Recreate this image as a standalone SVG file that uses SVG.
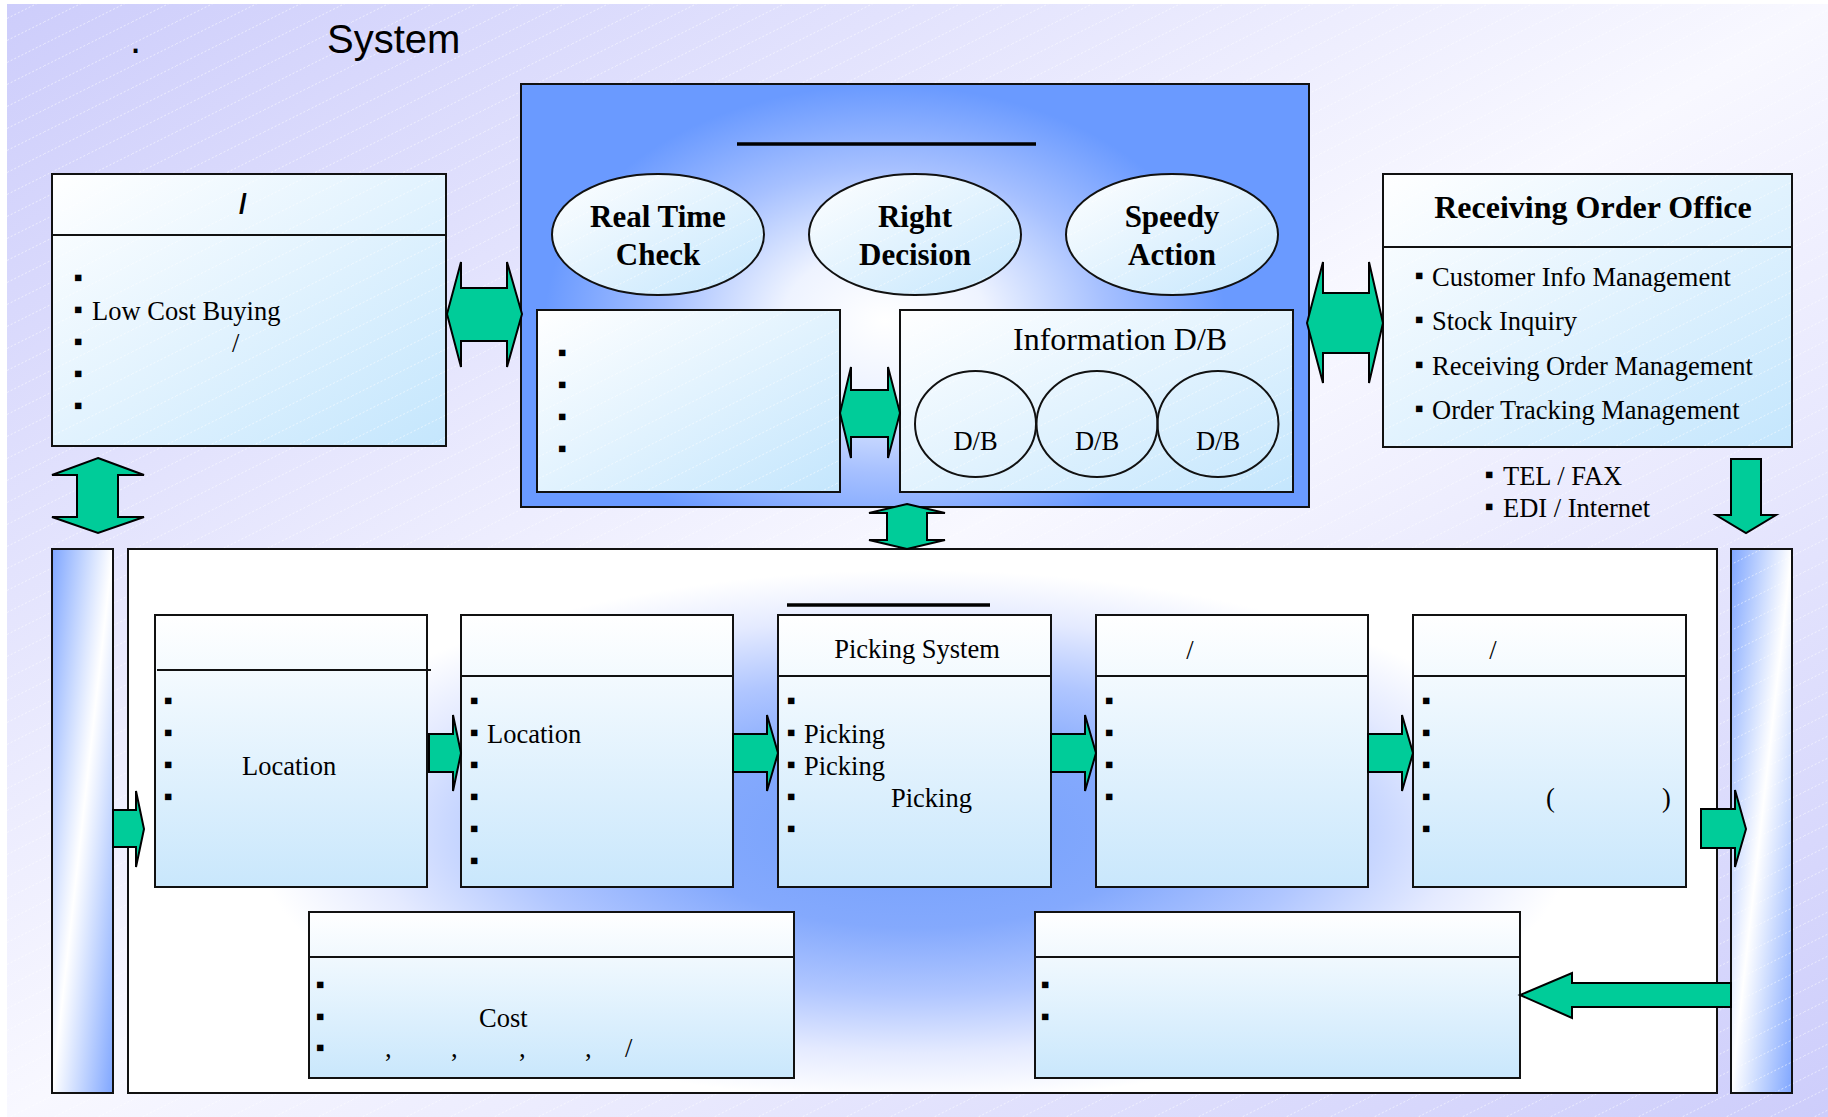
<svg xmlns="http://www.w3.org/2000/svg" width="1828" height="1117" viewBox="0 0 1828 1117">
<defs>
  <style>
    .bx{stroke:#111;stroke-width:2}
    .st{fill:none;stroke:#111;stroke-width:2}
    .ln{stroke:#111;stroke-width:2}
    .ul{stroke:#000;stroke-width:3.5}
    .ar{fill:#00cc99;stroke:#000;stroke-width:2;stroke-linejoin:miter}
    .t{font-family:"Liberation Serif","Times New Roman",serif;font-size:26.5px;fill:#000}
    .tb{font-family:"Liberation Serif","Times New Roman",serif;font-size:31px;font-weight:bold;fill:#000;text-anchor:middle}
    .b{font-family:"Liberation Serif","Times New Roman",serif;font-size:26px;fill:#000;text-anchor:middle}
    .c{text-anchor:middle}
  </style>
  <linearGradient id="bg" x1="0" y1="0" x2="1" y2="1">
    <stop offset="0" stop-color="#cdcdfb"/>
    <stop offset="0.5" stop-color="#f8f8ff"/>
    <stop offset="1" stop-color="#cdcdfb"/>
  </linearGradient>
  <linearGradient id="bar" x1="0" y1="0" x2="1" y2="1">
    <stop offset="0" stop-color="#7fa6ff"/>
    <stop offset="0.5" stop-color="#ffffff"/>
    <stop offset="1" stop-color="#7fa6ff"/>
  </linearGradient>
  <linearGradient id="diag" x1="0" y1="0" x2="1" y2="1">
    <stop offset="0" stop-color="#ffffff"/>
    <stop offset="1" stop-color="#c4e6fd"/>
  </linearGradient>
  <linearGradient id="vert" x1="0" y1="0" x2="0" y2="1">
    <stop offset="0" stop-color="#ffffff"/>
    <stop offset="1" stop-color="#c9e7fc"/>
  </linearGradient>
  <radialGradient id="coreglow" gradientUnits="userSpaceOnUse" cx="0" cy="0" r="1" gradientTransform="translate(885 320) scale(340 235)">
    <stop offset="0" stop-color="#ffffff"/>
    <stop offset="0.3" stop-color="#eef3ff"/>
    <stop offset="0.65" stop-color="#a6c0ff"/>
    <stop offset="1" stop-color="#6a9aff"/>
  </radialGradient>
  <radialGradient id="lowglow" gradientUnits="userSpaceOnUse" cx="0" cy="0" r="1" gradientTransform="translate(915 835) scale(660 265)">
    <stop offset="0" stop-color="#74a0fc"/>
    <stop offset="0.35" stop-color="#84a9fd"/>
    <stop offset="0.6" stop-color="#b0c6ff"/>
    <stop offset="0.82" stop-color="#e4eaff"/>
    <stop offset="1" stop-color="#ffffff"/>
  </radialGradient>
  <pattern id="hatch" width="44" height="22" patternUnits="userSpaceOnUse">
    <line x1="0" y1="22" x2="44" y2="0" stroke="#ffffff" stroke-width="1" stroke-dasharray="2 2" opacity="0.55"/>
  </pattern>
</defs>

<g id="background">
  <rect x="7" y="4" width="1821" height="1113" fill="url(#bg)"/>
  <rect x="7" y="4" width="1821" height="1113" fill="url(#hatch)"/>
</g>

<g id="title">
  <text x="130" y="53" style="font-family:'Liberation Sans',Arial,sans-serif;font-size:40px;fill:#000">.</text>
  <text x="327" y="53" style="font-family:'Liberation Sans',Arial,sans-serif;font-size:40px;fill:#000">System</text>
</g>

<g id="purchase">
  <rect x="52" y="174" width="394" height="272" fill="url(#diag)"/>
  <rect x="52" y="174" width="394" height="272" fill="url(#hatch)"/>
  <rect class="st" x="52" y="174" width="394" height="272"/>
  <line class="ln" x1="52" y1="235" x2="446" y2="235"/>
  <text x="243" y="213" style="font-family:'Liberation Sans',Arial,sans-serif;font-size:28px;font-weight:bold;text-anchor:middle">/</text>
  <text class="b" x="78" y="286">▪</text>
  <text class="b" x="78" y="318">▪</text>
  <text class="b" x="78" y="350">▪</text>
  <text class="b" x="78" y="382">▪</text>
  <text class="b" x="78" y="414">▪</text>
  <text class="t" x="92" y="320">Low Cost Buying</text>
  <text class="t" x="232" y="352">/</text>
</g>

<g id="core">
  <rect class="bx" x="521" y="84" width="788" height="423" fill="url(#coreglow)"/>
  <line class="ul" x1="737" y1="144" x2="1036" y2="144"/>
  <g id="realtime">
    <ellipse cx="658" cy="234.5" rx="106" ry="60.5" fill="url(#diag)"/>
    <ellipse cx="658" cy="234.5" rx="106" ry="60.5" fill="url(#hatch)"/>
    <ellipse class="st" cx="658" cy="234.5" rx="106" ry="60.5"/>
    <text class="tb" x="658" y="227">Real Time</text>
    <text class="tb" x="658" y="265">Check</text>
  </g>
  <g id="decision">
    <ellipse cx="915" cy="234.5" rx="106" ry="60.5" fill="url(#diag)"/>
    <ellipse cx="915" cy="234.5" rx="106" ry="60.5" fill="url(#hatch)"/>
    <ellipse class="st" cx="915" cy="234.5" rx="106" ry="60.5"/>
    <text class="tb" x="915" y="227">Right</text>
    <text class="tb" x="915" y="265">Decision</text>
  </g>
  <g id="speedy">
    <ellipse cx="1172" cy="234.5" rx="106" ry="60.5" fill="url(#diag)"/>
    <ellipse cx="1172" cy="234.5" rx="106" ry="60.5" fill="url(#hatch)"/>
    <ellipse class="st" cx="1172" cy="234.5" rx="106" ry="60.5"/>
    <text class="tb" x="1172" y="227">Speedy</text>
    <text class="tb" x="1172" y="265">Action</text>
  </g>
  <g id="core-panel">
    <rect x="537" y="310" width="303" height="182" fill="url(#diag)"/>
    <rect x="537" y="310" width="303" height="182" fill="url(#hatch)"/>
    <rect class="st" x="537" y="310" width="303" height="182"/>
    <text class="b" x="562" y="361">▪</text>
    <text class="b" x="562" y="393">▪</text>
    <text class="b" x="562" y="425">▪</text>
    <text class="b" x="562" y="457">▪</text>
  </g>
  <g id="info-db">
    <rect x="900" y="310" width="393" height="182" fill="url(#diag)"/>
    <rect x="900" y="310" width="393" height="182" fill="url(#hatch)"/>
    <rect class="st" x="900" y="310" width="393" height="182"/>
    <text class="t" x="1013" y="350" style="font-size:32px">Information D/B</text>
    <ellipse class="st" cx="975.5" cy="424" rx="60.5" ry="53"/>
    <ellipse class="st" cx="1097" cy="424" rx="60.5" ry="53"/>
    <ellipse class="st" cx="1218" cy="424" rx="60.5" ry="53"/>
    <text class="t c" x="975.5" y="450">D/B</text>
    <text class="t c" x="1097" y="450">D/B</text>
    <text class="t c" x="1218" y="450">D/B</text>
  </g>
</g>

<g id="receiving">
  <rect x="1383" y="174" width="409" height="273" fill="url(#diag)"/>
  <rect x="1383" y="174" width="409" height="273" fill="url(#hatch)"/>
  <rect class="st" x="1383" y="174" width="409" height="273"/>
  <line class="ln" x1="1383" y1="247" x2="1792" y2="247"/>
  <text class="tb" x="1593" y="218" style="font-size:32px">Receiving Order Office</text>
  <text class="b" x="1419" y="284">▪</text>
  <text class="b" x="1419" y="328">▪</text>
  <text class="b" x="1419" y="373">▪</text>
  <text class="b" x="1419" y="417">▪</text>
  <text class="t" x="1432" y="286">Customer Info Management</text>
  <text class="t" x="1432" y="330">Stock Inquiry</text>
  <text class="t" x="1432" y="375">Receiving Order Management</text>
  <text class="t" x="1432" y="419">Order Tracking Management</text>
</g>

<g id="channels">
  <text class="b" x="1489" y="483">▪</text>
  <text class="b" x="1489" y="515">▪</text>
  <text class="t" x="1503" y="485">TEL / FAX</text>
  <text class="t" x="1503" y="517">EDI / Internet</text>
</g>

<g id="left-bar">
  <rect class="bx" x="52" y="549" width="61" height="544" fill="url(#bar)"/>
</g>
<g id="right-bar">
  <rect x="1731" y="549" width="61" height="544" fill="url(#bar)"/>
  <rect x="1731" y="549" width="61" height="544" fill="url(#hatch)"/>
  <rect class="st" x="1731" y="549" width="61" height="544"/>
</g>

<g id="logistics">
  <rect class="bx" x="128" y="549" width="1589" height="544" fill="url(#lowglow)"/>
  <line class="ul" x1="787" y1="605" x2="990" y2="605"/>
</g>

<g id="box1">
  <rect class="bx" x="155" y="615" width="272" height="272" fill="url(#vert)"/>
  <line class="ln" x1="157" y1="670" x2="431" y2="670"/>
  <text class="b" x="168" y="709">▪</text>
  <text class="b" x="168" y="741">▪</text>
  <text class="b" x="168" y="773">▪</text>
  <text class="b" x="168" y="805">▪</text>
  <text class="t" x="242" y="775">Location</text>
</g>

<g id="box2">
  <rect class="bx" x="461" y="615" width="272" height="272" fill="url(#vert)"/>
  <line class="ln" x1="461" y1="676" x2="733" y2="676"/>
  <text class="b" x="474" y="709">▪</text>
  <text class="b" x="474" y="741">▪</text>
  <text class="b" x="474" y="773">▪</text>
  <text class="b" x="474" y="805">▪</text>
  <text class="b" x="474" y="837">▪</text>
  <text class="b" x="474" y="869">▪</text>
  <text class="t" x="487" y="743">Location</text>
</g>

<g id="box3">
  <rect class="bx" x="778" y="615" width="273" height="272" fill="url(#vert)"/>
  <line class="ln" x1="778" y1="676" x2="1051" y2="676"/>
  <text class="t c" x="917" y="658">Picking System</text>
  <text class="b" x="791" y="709">▪</text>
  <text class="b" x="791" y="741">▪</text>
  <text class="b" x="791" y="773">▪</text>
  <text class="b" x="791" y="805">▪</text>
  <text class="b" x="791" y="837">▪</text>
  <text class="t" x="804" y="743">Picking</text>
  <text class="t" x="804" y="775">Picking</text>
  <text class="t" x="891" y="807">Picking</text>
</g>

<g id="box4">
  <rect class="bx" x="1096" y="615" width="272" height="272" fill="url(#vert)"/>
  <line class="ln" x1="1096" y1="676" x2="1368" y2="676"/>
  <text class="t c" x="1190" y="659">/</text>
  <text class="b" x="1109" y="709">▪</text>
  <text class="b" x="1109" y="741">▪</text>
  <text class="b" x="1109" y="773">▪</text>
  <text class="b" x="1109" y="805">▪</text>
</g>

<g id="box5">
  <rect class="bx" x="1413" y="615" width="273" height="272" fill="url(#vert)"/>
  <line class="ln" x1="1413" y1="676" x2="1686" y2="676"/>
  <text class="t c" x="1493" y="659">/</text>
  <text class="b" x="1426" y="709">▪</text>
  <text class="b" x="1426" y="741">▪</text>
  <text class="b" x="1426" y="773">▪</text>
  <text class="b" x="1426" y="805">▪</text>
  <text class="b" x="1426" y="837">▪</text>
  <text class="t" x="1546" y="807">(</text>
  <text class="t" x="1662" y="807">)</text>
</g>

<g id="boxA">
  <rect class="bx" x="309" y="912" width="485" height="166" fill="url(#vert)"/>
  <line class="ln" x1="309" y1="957" x2="794" y2="957"/>
  <text class="b" x="320" y="993">▪</text>
  <text class="b" x="320" y="1025">▪</text>
  <text class="b" x="320" y="1056">▪</text>
  <text class="t" x="479" y="1027">Cost</text>
  <text class="t" x="385" y="1057">,</text>
  <text class="t" x="451" y="1057">,</text>
  <text class="t" x="519" y="1057">,</text>
  <text class="t" x="585" y="1057">,</text>
  <text class="t" x="625" y="1057">/</text>
</g>

<g id="boxB">
  <rect class="bx" x="1035" y="912" width="485" height="166" fill="url(#vert)"/>
  <line class="ln" x1="1035" y1="957" x2="1520" y2="957"/>
  <text class="b" x="1045" y="993">▪</text>
  <text class="b" x="1045" y="1025">▪</text>
</g>

<g id="connectors">
  <polygon class="ar" points="447,314 461,262 461,288 507,288 507,262 522,314 507,367 507,341 461,341 461,367"/>
  <polygon class="ar" points="1307,323 1323,262 1323,293 1369,293 1369,262 1383,323 1369,383 1369,353 1323,353 1323,383"/>
  <polygon class="ar" points="840,413 851,367 851,390 888,390 888,367 900,413 888,458 888,437 851,437 851,458"/>
  <polygon class="ar" points="98,458 144,475 118,475 118,517 144,517 98,533 52,517 77,517 77,475 52,475"/>
  <polygon class="ar" points="907,504 945,513 927,513 927,540 945,540 907,549 869,540 887,540 887,513 869,513"/>
  <polygon class="ar" points="1731,459 1761,459 1761,515 1776,515 1746,533 1716,515 1731,515"/>
  <polygon class="ar" points="113,810 136,810 136,791 144,829 136,867 136,847 113,847"/>
  <polygon class="ar" points="429,734 453,734 453,715 461,753 453,791 453,772 429,772"/>
  <polygon class="ar" points="733,734 767,734 767,715 778,753 767,791 767,772 733,772"/>
  <polygon class="ar" points="1051,734 1085,734 1085,715 1096,753 1085,791 1085,772 1051,772"/>
  <polygon class="ar" points="1368,734 1402,734 1402,715 1413,753 1402,791 1402,772 1368,772"/>
  <polygon class="ar" points="1701,809 1735,809 1735,790 1746,829 1735,867 1735,848 1701,848"/>
  <polygon class="ar" points="1731,983 1572,983 1572,973 1520,995 1572,1018 1572,1007 1731,1007"/>
</g>
</svg>
